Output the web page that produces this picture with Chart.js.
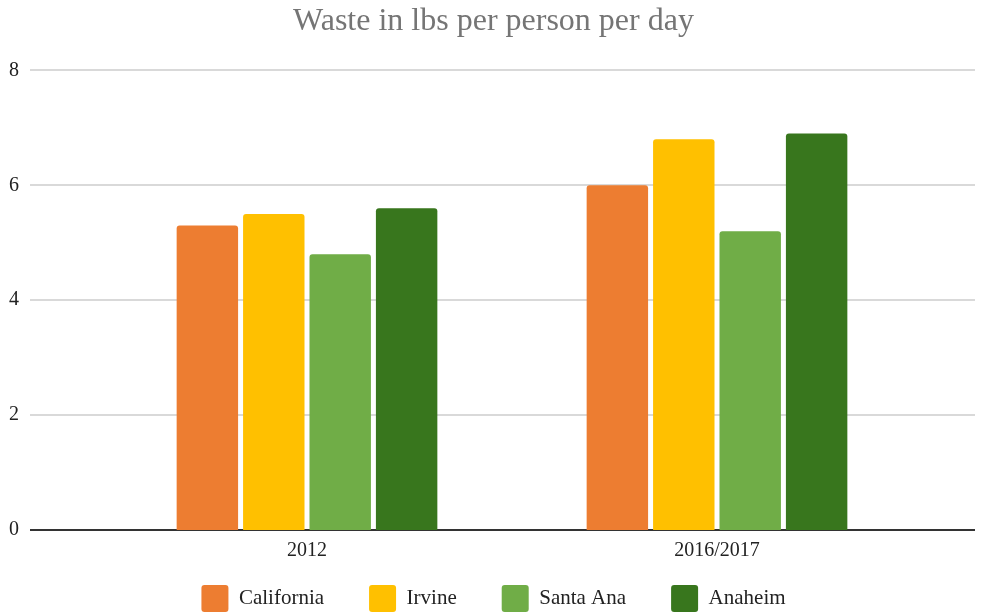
<!DOCTYPE html>
<html lang="en">
<head>
  <meta charset="UTF-8">
  <title>Waste in lbs per person per day</title>
  <script src="https://cdn.jsdelivr.net/npm/chart.js"></script>
  <style>
    html, body { margin: 0; padding: 0; background: #fff; }
    #wrap { width: 987px; height: 614px; }
  </style>
</head>
<body>
  <div id="wrap"><canvas id="myChart"></canvas></div>

  <script>
    // chart data
    var years = ['2012', '2016/2017'];
    var california = [5.3, 6.0];
    var irvine = [5.5, 6.8];
    var santaAna = [4.8, 5.2];
    var anaheim = [5.6, 6.9];
    var yTicks = [0, 2, 4, 6, 8];

    var serif = "'Liberation Serif', 'DejaVu Serif', serif";

    // horizontal gridlines run wider than the plot area, like the sheets chart
    var wideGrid = {
      id: 'wideGrid',
      beforeDatasetsDraw: function (chart) {
        var ctx = chart.ctx;
        var y = chart.scales.y;
        ctx.save();
        yTicks.forEach(function (v) {
          var py = Math.round(y.getPixelForValue(v));
          ctx.beginPath();
          ctx.lineWidth = v === 0 ? 2 : 1.5;
          ctx.strokeStyle = v === 0 ? '#333333' : '#cccccc';
          ctx.moveTo(30, py);
          ctx.lineTo(975, py);
          ctx.stroke();
        });
        ctx.restore();
      }
    };

    function bar(label, data, color) {
      return {
        label: label,
        data: data,
        backgroundColor: color,
        borderWidth: 0,
        borderRadius: { topLeft: 3, topRight: 3 },
        borderSkipped: 'start',
        categoryPercentage: 0.648,
        barPercentage: 0.925
      };
    }

    new Chart(document.getElementById('myChart').getContext('2d'), {
      type: 'bar',
      data: {
        labels: years,
        datasets: [
          bar('California', california, '#ED7D31'),
          bar('Irvine', irvine, '#FFC000'),
          bar('Santa Ana', santaAna, '#70AD47'),
          bar('Anaheim', anaheim, '#38761D')
        ]
      },
      options: {
        responsive: true,
        maintainAspectRatio: false,
        animation: false,
        layout: { padding: { left: 0, right: 0, top: 0, bottom: -8 } },
        plugins: {
          title: {
            display: true,
            text: 'Waste in lbs per person per day',
            color: '#757575',
            font: { family: serif, size: 32, weight: 'normal' },
            padding: { top: 2, bottom: 30 }
          },
          legend: {
            position: 'bottom',
            labels: {
              color: '#222222',
              font: { family: serif, size: 21 },
              boxWidth: 27,
              boxHeight: 27,
              useBorderRadius: true,
              borderRadius: 3,
              padding: 45
            }
          },
          tooltip: { enabled: false }
        },
        scales: {
          x: {
            afterFit: function (scale) {
              scale.height = 10;
              scale._computeLabelArea = function () {}; // let the labels spill below the short axis box
            },
            grid: { display: false, drawTicks: false },
            border: { display: false },
            ticks: { color: '#222222', font: { family: serif, size: 20 }, padding: 9 }
          },
          y: {
            min: 0,
            max: 8,
            afterBuildTicks: function (scale) {
              scale.ticks = yTicks.map(function (v) { return { value: v }; });
            },
            afterFit: function (scale) {
              scale.width = 102;
              scale.paddingTop = 0;
              scale.paddingBottom = 0;
            },
            grid: { display: false, drawTicks: false },
            border: { display: false },
            ticks: { color: '#222222', font: { family: serif, size: 20 }, padding: 83 }
          },
          // empty right-hand axis, only reserves the margin on the right
          yRight: {
            position: 'right',
            min: 0,
            max: 8,
            afterFit: function (scale) {
              scale.width = 65;
              scale.paddingTop = 0;
              scale.paddingBottom = 0;
            },
            grid: { display: false, drawTicks: false },
            border: { display: false },
            ticks: { display: false }
          }
        }
      },
      plugins: [wideGrid]
    });
  </script>
</body>
</html>
